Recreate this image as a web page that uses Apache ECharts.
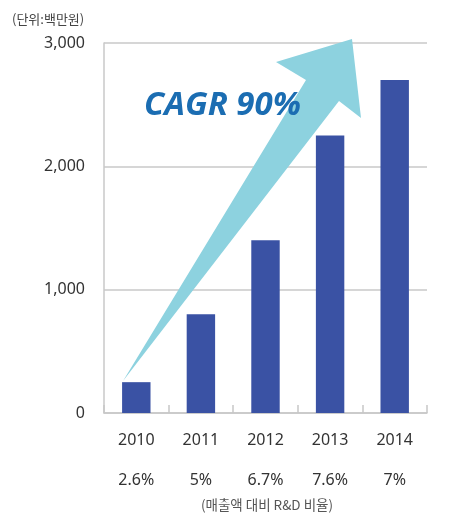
<!DOCTYPE html>
<html>
<head>
<meta charset="utf-8">
<script src="https://cdn.jsdelivr.net/npm/echarts@6/dist/echarts.min.js"></script>
<style>
html,body{margin:0;padding:0;background:#fff;}
#chart{width:469px;height:524px;}
</style>
</head>
<body>
<div id="chart"></div>
<script>
var categories = ['2010', '2011', '2012', '2013', '2014'];
var values = [250, 800, 1400, 2250, 2700];
var ratios = ['2.6%', '5%', '6.7%', '7.6%', '7%'];
var yTicks = [0, 1000, 2000, 3000];
var unitLabel = '(단위:백만원)';
var ratioNote = '(매출액 대비 R&D 비율)';
var cagrText = 'CAGR 90%';

var font = '"Noto Sans", "Noto Sans CJK KR", sans-serif';
var chart = echarts.init(document.getElementById('chart'));
chart.setOption({
  animation: false,
  backgroundColor: '#ffffff',
  grid: { left: 104, right: 42, top: 43, bottom: 111 },
  xAxis: {
    type: 'category',
    data: categories,
    axisLine: { lineStyle: { color: '#c8c8c8', width: 1.5 } },
    axisTick: { show: true, inside: true, length: 8, lineStyle: { color: '#c8c8c8', width: 1.5 } },
    axisLabel: {
      margin: 7,
      formatter: function (v, i) { return '{y|' + v + '}\n{p|' + ratios[i] + '}'; },
      rich: {
        y: { fontSize: 16, lineHeight: 40, color: '#333', fontFamily: font },
        p: { fontSize: 16, lineHeight: 40, color: '#333', fontFamily: font }
      }
    }
  },
  yAxis: {
    type: 'value',
    min: yTicks[0],
    max: yTicks[yTicks.length - 1],
    interval: 1000,
    axisLine: { show: true, lineStyle: { color: '#c8c8c8', width: 1.5 } },
    axisTick: { show: false },
    splitLine: { lineStyle: { color: '#c8c8c8', width: 1.5 } },
    axisLabel: {
      margin: 19,
      fontSize: 16,
      color: '#333',
      fontFamily: font,
      formatter: function (v) { return v.toLocaleString('en-US'); }
    }
  },
  series: [{
    type: 'bar',
    data: values,
    barWidth: '44%',
    itemStyle: { color: '#3a52a4' },
    z: 2
  }],
  graphic: [
    {
      type: 'polygon',
      z: 1,
      shape: { points: [[123, 381], [306, 80], [276, 62], [352, 39], [361, 118], [339, 101]] },
      style: { fill: '#8dd2df' }
    },
    {
      type: 'text',
      z: 10,
      left: 144,
      top: 89,
      style: {
        text: cagrText,
        font: 'italic bold 33px "Open Sans", sans-serif',
        fill: '#1b6db2'
      }
    },
    {
      type: 'text',
      left: 12,
      top: 13,
      style: { text: unitLabel, font: '13px "Noto Sans CJK KR", sans-serif', fill: '#444' }
    },
    {
      type: 'text',
      x: 267,
      y: 505,
      style: { text: ratioNote, font: '13.5px "Noto Sans CJK KR", sans-serif', fill: '#555', align: 'center', verticalAlign: 'middle' }
    }
  ]
});
</script>
</body>
</html>
